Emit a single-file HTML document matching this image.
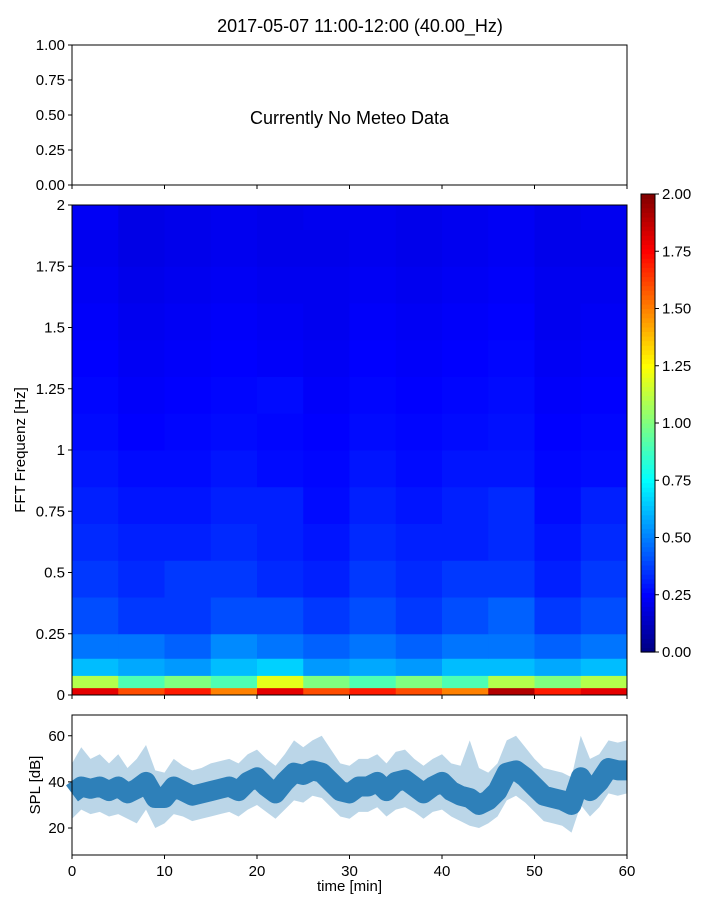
<!DOCTYPE html>
<html><head><meta charset="utf-8">
<style>
body{margin:0;background:#fff;width:720px;height:900px;overflow:hidden}
svg{font-family:"Liberation Sans",sans-serif}
</style></head>
<body>
<svg id="fig" width="720" height="900" xmlns="http://www.w3.org/2000/svg">
<text x="360" y="32" font-size="18" text-anchor="middle">2017-05-07 11:00-12:00 (40.00_Hz)</text>
</svg>
<script>
// ---- data ----
const timeEdges=[0,5,10,15,20,25,30,35,40,45,50,55,60];
const freqEdges=[0,0.03,0.08,0.15,0.25,0.4,0.55,0.7,0.85,1.0,1.15,1.3,1.45,1.6,1.75,1.9,2.0];
const specValues=[
[1.8,1.6,1.7,1.5,1.8,1.6,1.7,1.6,1.5,1.9,1.7,1.8],
[1.1,0.9,1.0,0.9,1.2,1.0,0.9,1.0,0.9,1.1,1.0,1.1],
[0.62,0.58,0.55,0.62,0.66,0.55,0.58,0.55,0.62,0.62,0.58,0.62],
[0.48,0.48,0.44,0.52,0.48,0.44,0.48,0.44,0.48,0.48,0.44,0.48],
[0.4,0.36,0.36,0.4,0.4,0.36,0.4,0.36,0.4,0.44,0.36,0.4],
[0.36,0.33,0.36,0.36,0.33,0.31,0.36,0.33,0.36,0.36,0.31,0.36],
[0.33,0.31,0.31,0.33,0.31,0.29,0.33,0.31,0.31,0.33,0.29,0.33],
[0.31,0.29,0.29,0.31,0.31,0.27,0.31,0.29,0.31,0.33,0.27,0.31],
[0.29,0.27,0.27,0.29,0.27,0.26,0.29,0.27,0.29,0.29,0.26,0.27],
[0.27,0.25,0.26,0.27,0.26,0.25,0.27,0.26,0.27,0.28,0.25,0.26],
[0.26,0.24,0.25,0.26,0.27,0.24,0.26,0.25,0.26,0.27,0.24,0.25],
[0.25,0.23,0.24,0.25,0.24,0.23,0.25,0.24,0.25,0.26,0.23,0.24],
[0.24,0.22,0.23,0.24,0.23,0.22,0.24,0.23,0.24,0.25,0.22,0.23],
[0.23,0.21,0.22,0.23,0.22,0.22,0.23,0.22,0.23,0.24,0.22,0.22],
[0.22,0.2,0.21,0.22,0.21,0.21,0.22,0.21,0.22,0.23,0.21,0.21],
[0.23,0.2,0.21,0.22,0.21,0.22,0.22,0.21,0.22,0.23,0.21,0.22]];
const splTime=[0,1,2,3,4,5,6,7,8,9,10,11,12,13,14,15,16,17,18,19,20,21,22,23,24,25,26,27,28,29,30,31,32,33,34,35,36,37,38,39,40,41,42,43,44,45,46,47,48,49,50,51,52,53,54,55,56,57,58,59,60];
const splMid=[35,38,37,38,36,38,35,37,40,33,33,38,36,34,35,36,37,38,36,40,42,38,35,40,44,43,45,44,40,36,35,38,38,40,36,40,41,38,35,38,40,36,34,33,30,32,36,44,45,42,38,34,33,32,30,42,36,40,46,45,45];
const splHi=[48,55,50,52,48,52,46,50,56,45,44,50,47,45,46,48,49,50,48,52,54,50,47,52,58,55,58,60,54,48,47,50,50,52,48,53,54,50,47,50,52,48,47,58,46,44,48,58,60,55,50,46,45,44,42,60,50,52,58,57,58];
const splLo=[24,28,26,27,25,26,24,22,28,20,22,26,25,23,24,25,26,27,25,28,30,27,24,28,32,31,34,33,29,25,24,27,27,29,25,28,29,27,24,27,28,25,23,21,20,22,25,32,34,31,27,23,22,21,18,30,25,29,35,34,35];
const xTicks=[0,10,20,30,40,50,60];
const topYTicks=[0,0.25,0.5,0.75,1.0];
const specYTicks=[0,0.25,0.5,0.75,1,1.25,1.5,1.75,2];
const specYLabels=["0","0.25","0.5","0.75","1","1.25","1.5","1.75","2"];
const cbTicks=[0,0.25,0.5,0.75,1,1.25,1.5,1.75,2];
const splYTicks=[20,40,60];

const NS="http://www.w3.org/2000/svg";
const svg=document.getElementById('fig');
function el(tag,attrs,parent){const e=document.createElementNS(NS,tag);for(const k in attrs)e.setAttribute(k,attrs[k]);(parent||svg).appendChild(e);return e;}
function jet(v){v=Math.max(0,Math.min(1,v));
 const r=Math.max(0,Math.min(1,1.5-Math.abs(4*v-3))),g=Math.max(0,Math.min(1,1.5-Math.abs(4*v-2))),b=Math.max(0,Math.min(1,1.5-Math.abs(4*v-1)));
 return `rgb(${Math.round(r*255)},${Math.round(g*255)},${Math.round(b*255)})`;}
const L=72,R=627;
const xs=t=>L+(t/60)*(R-L);
function text(x,y,s,anchor,name,size){const t=el('text',{x:x,y:y,'font-size':size||15,'text-anchor':anchor||'end'});t.textContent=s;
 
 return t;}
function tickLine(x1,y1,x2,y2){const l=el('line',{x1:x1,y1:y1,x2:x2,y2:y2,stroke:'#000','stroke-width':1});
 
 }

// top panel
const tT=45,tB=185;
const ty=v=>tB-v*(tB-tT);
const topFrame=el('rect',{x:L,y:tT,width:R-L,height:tB-tT,fill:'none',stroke:'#000'});


topYTicks.forEach(v=>{tickLine(L-4,ty(v),L,ty(v));text(L-7,ty(v)+5,v.toFixed(2),'end','meteo-y-tick-label');});
xTicks.forEach(v=>tickLine(xs(v),tB,xs(v),tB+4));
text((L+R)/2,124,'Currently No Meteo Data','middle','no-meteo-message',18);

// spectrogram
const sT=205,sB=695;
const sy=f=>sB-(f/2)*(sB-sT);
for(let i=0;i<freqEdges.length-1;i++)for(let j=0;j<timeEdges.length-1;j++){
 const c=el('rect',{x:xs(timeEdges[j]),y:sy(freqEdges[i+1]),width:xs(timeEdges[j+1])-xs(timeEdges[j])+0.5,height:sy(freqEdges[i])-sy(freqEdges[i+1])+0.5,fill:jet(specValues[i][j]/2)});
 
 
}
const sf=el('rect',{x:L,y:sT,width:R-L,height:sB-sT,fill:'none',stroke:'#000'});


specYTicks.forEach((v,i)=>{tickLine(L-4,sy(v),L,sy(v));text(L-7,sy(v)+5,specYLabels[i],'end','spectrogram-y-tick-label');});
xTicks.forEach(v=>tickLine(xs(v),sB,xs(v),sB+4));
const yl=text(0,0,'FFT Frequenz [Hz]','middle','spectrogram-y-axis-title',15);
yl.setAttribute('transform','translate(25,450) rotate(-90)');

// colorbar
const cL=641,cR=655,cT=194,cB=652;
const cy=v=>cB-(v/2)*(cB-cT);
for(let k=0;k<100;k++){const r=el('rect',{x:cL,y:cB-(k+1)*(cB-cT)/100,width:cR-cL,height:(cB-cT)/100+0.6,fill:jet((k+0.5)/100)});
 
 }
const cf=el('rect',{x:cL,y:cT,width:cR-cL,height:cB-cT,fill:'none',stroke:'#000'});


cbTicks.forEach(v=>{tickLine(cR,cy(v),cR+4,cy(v));text(cR+7,cy(v)+5,v.toFixed(2),'start','colorbar-tick-label');});

// SPL
const pT=715,pB=855,yMin=8.3,yMax=69;
const py=v=>pB-(v-yMin)/(yMax-yMin)*(pB-pT);
let d='';splTime.forEach((t,i)=>d+=(i?'L':'M')+xs(t)+','+py(splHi[i]));
for(let i=splTime.length-1;i>=0;i--)d+='L'+xs(splTime[i])+','+py(splLo[i]);
const band=el('path',{d:d+'Z',fill:'#1f77b4','fill-opacity':0.3});


let d2='';splTime.forEach((t,i)=>d2+=(i?'L':'M')+xs(t)+','+py(splMid[i]));
const core=el('path',{d:d2,fill:'none',stroke:'#1f77b4','stroke-width':20,'stroke-linejoin':'round','stroke-opacity':0.9});


const pf=el('rect',{x:L,y:pT,width:R-L,height:pB-pT,fill:'none',stroke:'#000'});


splYTicks.forEach(v=>{tickLine(L-4,py(v),L,py(v));text(L-7,py(v)+5,String(v),'end','spl-y-tick-label');});
xTicks.forEach(v=>{tickLine(xs(v),pB,xs(v),pB+4);text(xs(v),pB+21,String(v),'middle','x-tick-label');});
text((L+R)/2,891,'time [min]','middle','x-axis-title',15);
const yl2=text(0,0,'SPL [dB]','middle','spl-y-axis-title',15);
yl2.setAttribute('transform','translate(40,785) rotate(-90)');
</script>
</body></html>
